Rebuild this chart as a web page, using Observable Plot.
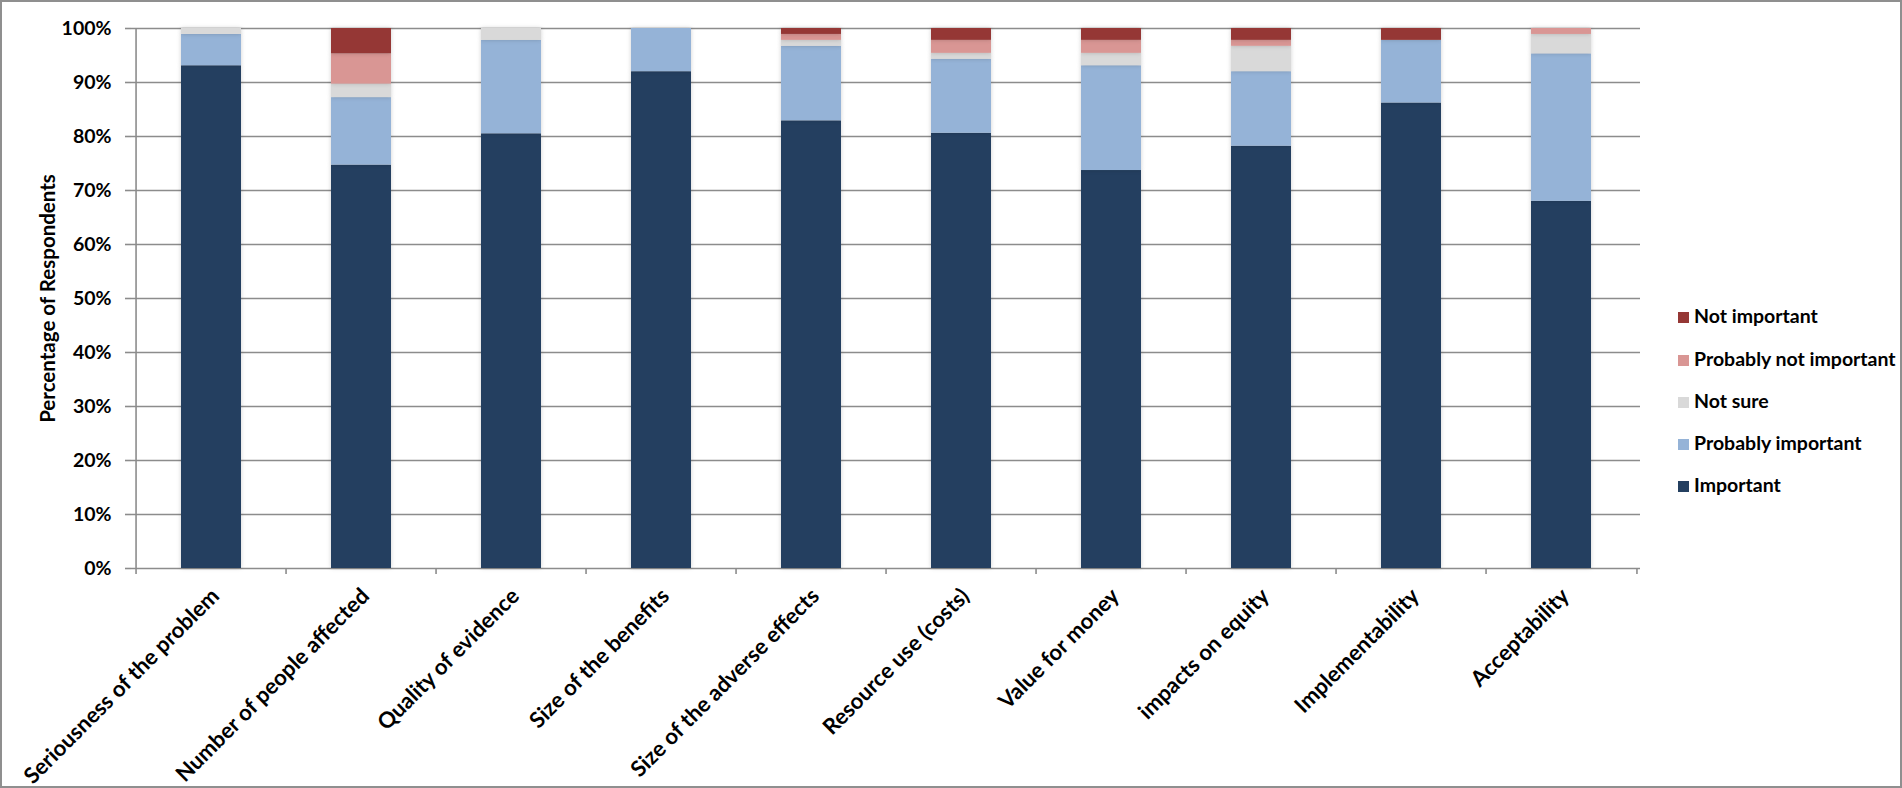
<!DOCTYPE html>
<html>
<head>
<meta charset="utf-8">
<script src="https://cdn.jsdelivr.net/npm/d3@7"></script>
<script src="https://cdn.jsdelivr.net/npm/@observablehq/plot@0.6"></script>
<style>
  html, body { margin: 0; padding: 0; background: #fff; }
  #wrap { position: relative; width: 1902px; height: 788px; overflow: hidden; font-family: Lato, "Open Sans", sans-serif; }
  #border { position: absolute; left: 0; top: 0; width: 1902px; height: 788px; box-sizing: border-box; border: 2px solid #8f8f8f; pointer-events: none; }
  #chart { position: absolute; left: 0; top: 0; }
  #legend { position: absolute; left: 1678px; top: 0; }
  .item { position: absolute; left: 0; white-space: nowrap; font-weight: 700; font-size: 19.5px; color: #000; line-height: 20px; }
  .sw { position: absolute; left: 0; top: 4px; width: 11px; height: 11px; }
  .lab { position: absolute; left: 16px; top: -2px; }
</style>
</head>
<body>
<div id="wrap">
  <div id="chart"></div>
  <div id="legend"></div>
  <div id="border"></div>
</div>
<script>
const categories = [
  "Seriousness of the problem",
  "Number of people affected",
  "Quality of evidence",
  "Size of the benefits",
  "Size of the adverse effects",
  "Resource use (costs)",
  "Value for money",
  "impacts on equity",
  "Implementability",
  "Acceptability"
];
const seriesNames = ["Important", "Probably important", "Not sure", "Probably not important", "Not important"];
const seriesColors = ["#243F60", "#95B3D7", "#D9D9D9", "#D99694", "#953735"];

const important            = [93.1, 74.7, 80.5, 92.0, 82.9, 80.6, 73.7, 78.2, 86.2, 68.0];
const probablyImportant    = [ 5.8, 12.5, 17.3,  8.0, 13.8, 13.7, 19.4, 13.8, 11.6, 27.3];
const notSure              = [ 1.1,  2.5,  2.2,  0.0,  1.1,  1.1,  2.3,  4.7,  0.0,  3.6];
const probablyNotImportant = [ 0.0,  5.6,  0.0,  0.0,  1.1,  2.4,  2.4,  1.1,  0.0,  1.1];
const notImportant         = [ 0.0,  4.7,  0.0,  0.0,  1.1,  2.2,  2.2,  2.2,  2.2,  0.0];

const yTicks = [0, 10, 20, 30, 40, 50, 60, 70, 80, 90, 100];

const seriesValues = [important, probablyImportant, notSure, probablyNotImportant, notImportant];
const data = [];
seriesNames.forEach((s, si) => {
  categories.forEach((c, ci) => data.push({category: c, series: s, value: seriesValues[si][ci]}));
});

const W = 1902, H = 788;
const mL = 131, mR = 262, mT = 28, mB = 220;
const step = (W - mL - mR) / categories.length;
const gridColor = "#8c8c8c";
const fontFam = "Lato, 'Open Sans', sans-serif";

const chart = Plot.plot({
  width: W,
  height: H,
  marginLeft: mL,
  marginRight: mR,
  marginTop: mT,
  marginBottom: mB,
  style: {fontFamily: fontFam, background: "transparent", overflow: "visible"},
  x: {domain: categories, paddingInner: 0.6, paddingOuter: 0.3, axis: null},
  y: {domain: [0, 100], axis: null},
  color: {domain: seriesNames, range: seriesColors},
  marks: [
    Plot.ruleY(yTicks, {y: d => d, stroke: gridColor, strokeWidth: 1.6}),
    Plot.axisY({
      ticks: yTicks, tickSize: 6, tickPadding: 14,
      tickFormat: d => d + "%",
      fontSize: 19.5, fontWeight: "bold", fill: "#000", stroke: gridColor, strokeWidth: 1.6, label: null
    }),
    Plot.ruleX([categories[0]], {x: d => d, dx: -step / 2, y1: 0, y2: 100, stroke: gridColor, strokeWidth: 1.6}),
    Plot.ruleX(categories, {x: d => d, dx: -step / 2, y1: 0, y2: -1.1, stroke: gridColor, strokeWidth: 1.6}),
    Plot.ruleX([categories[categories.length - 1]], {x: d => d, dx: step / 2, y1: 0, y2: -1.1, stroke: gridColor, strokeWidth: 1.6}),
    Plot.barY(data, {x: "category", y: "value", fill: "series", order: seriesNames}),
    Plot.text(categories, {
      x: d => d, y: 0, dy: 24, dx: 4, rotate: -45, textAnchor: "end",
      fontSize: 22, fontWeight: "bold", fill: "#000"
    }),
    Plot.text(["Percentage of Respondents"], {
      frameAnchor: "left", dx: -83, rotate: -90, textAnchor: "middle",
      fontSize: 20.5, fontWeight: "bold", fill: "#000"
    })
  ]
});
d3.select(chart).selectAll("g[aria-label='bar'] rect")
  .style("filter", "drop-shadow(0px 0px 2px rgba(0,0,0,0.18))");
document.getElementById("chart").appendChild(chart);

// legend (top to bottom: reversed stacking order)
const legendY = [318, 361, 403, 445, 487];
const leg = d3.select("#legend");
const order = seriesNames.map((s, i) => i).reverse();
order.forEach((si, k) => {
  const it = leg.append("div").attr("class", "item").style("top", (legendY[k] - 10) + "px");
  it.append("div").attr("class", "sw").style("background", seriesColors[si]);
  it.append("div").attr("class", "lab").text(seriesNames[si]);
});
</script>
</body>
</html>
